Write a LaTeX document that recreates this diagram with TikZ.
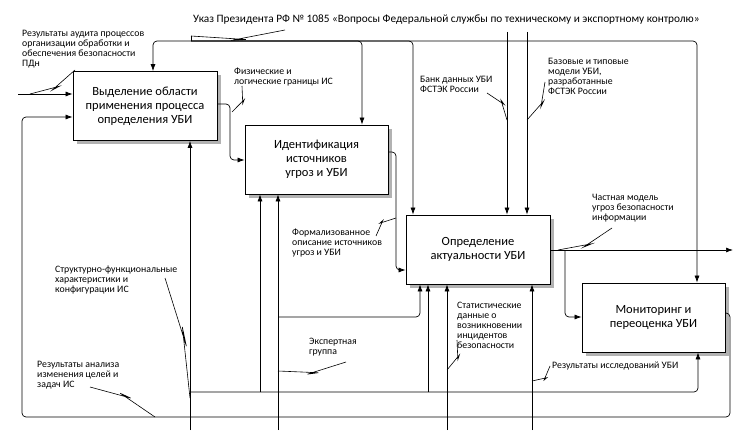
\documentclass[tikz,border=0pt]{standalone}
\usepackage{fontspec}
\setmainfont{Carlito}
\usetikzlibrary{calc,arrows.meta}
\begin{document}
\begin{tikzpicture}[x=1pt,y=-1pt,
 box/.style={draw,fill=white,line width=0.8pt,minimum width=#1,minimum height=69pt,align=center,font=\fontsize{12.5}{14}\selectfont,inner sep=2pt},
 lbl/.style={anchor=north west,align=left,font=\fontsize{9.8}{10}\selectfont,inner sep=0pt},
 ln/.style={line width=0.7pt,rounded corners=4pt},
 ar/.style={ln,-{Latex[length=7pt,width=5pt]}},
 zz/.style={line width=0.6pt}]
\newcommand\zz[2]{\draw[zz] (#1) -- ($(#1)!0.58!(#2)!7pt!90:(#2)$) -- ($(#1)!0.42!(#2)!7pt!-90:(#1)$) -- (#2);}
\useasboundingbox (0,0) rectangle (750,433);
\foreach \x/\y/\w in {145/106/144,316.5/159.5/143,478/249.5/144,653.5/317.5/143}
  \fill[gray!60] (\x-\w/2+4,\y-34.5+4) rectangle (\x+\w/2+4,\y+34.5+4);
\node[box=144pt] (B1) at (145,106) {Выделение области\\применения процесса\\определения УБИ};
\node[box=143pt] (B2) at (316.5,159.5) {Идентификация\\источников\\угроз и УБИ};
\node[box=144pt] (B3) at (478,249.5) {Определение\\актуальности УБИ};
\node[box=143pt] (B4) at (653.5,317.5) {Мониторинг и\\переоценка УБИ};

% top control
\node[anchor=west,font=\fontsize{11.3}{12}\selectfont,inner sep=0pt] (T) at (193,20) {Указ Президента РФ № 1085 «Вопросы Федеральной службы по техническому и экспортному контролю»};
\coordinate (t1) at (285,30); \coordinate (t2) at (191,36);
\zz{t1}{t2}
\coordinate (tj) at (191,41);
\draw[zz] (t2) -- (tj);
\draw[ar] (tj) -- (153,41) -- (B1.north -| 153,0);
\draw[ar] (tj) -- (362,41) -- (B2.north -| 362,0);
\draw[ar] (tj) -- (413,41) -- (B3.north -| 413,0);
\draw[ar] (tj) -- (697,41) -- (B4.north -| 697,0);
\coordinate (v1) at (507,32); \coordinate (v2) at (527,32);
\draw[ar] (v1) -- (B3.north -| v1);
\draw[ar] (v2) -- (B3.north -| v2);
\node[lbl] (L1) at (420,76) {Банк данных УБИ\\ФСТЭК России};
\coordinate (z1a) at (487,93); \coordinate (z1b) at (507,120); \zz{z1a}{z1b}
\node[lbl] (L2) at (548,58) {Базовые и типовые\\модели УБИ,\\разработанные\\ФСТЭК России};
\coordinate (z2a) at (545,82); \coordinate (z2b) at (527,120); \zz{z2a}{z2b}

% left inputs
\node[lbl] (L3) at (22,30) {Результаты аудита процессов\\организации обработки и\\обеспечения безопасности\\ПДн};
\coordinate (in1) at (18,94);
\draw[ar] (in1) -- (B1.west |- in1);
\coordinate (z3a) at (75,70); \coordinate (z3b) at (30,94); \zz{z3a}{z3b}

% feedback loop
\coordinate (fb) at (730,313);
\draw[ar] (B4.east |- fb) -- (fb) -- (730,417) -- (22,417) -- (22,117) -- (B1.west |- 0,117);
\node[lbl] (L4) at (37,361) {Результаты анализа\\изменения целей и\\задач ИС};
\coordinate (z4a) at (90,387); \coordinate (z4b) at (155,417); \zz{z4a}{z4b}

% B1 -> B2
\draw[ar] (B1.east |- 0,104) -- (230,104) -- (230,160) -- (B2.west |- 0,160);
\node[lbl] (L5) at (234,68) {Физические и\\логические границы ИС};
\coordinate (z5a) at (242,86); \coordinate (z5b) at (232,112); \zz{z5a}{z5b}

% B2 -> B3
\draw[ar] (B2.east |- 0,152) -- (396,152) -- (396,270) -- (B3.west |- 0,270);
\node[lbl] (L6) at (292,229) {Формализованное\\описание источников\\угроз и УБИ};
\coordinate (z6a) at (376,236); \coordinate (z6b) at (396,218); \zz{z6a}{z6b}

% B3 outputs
\coordinate (out) at (733,250);
\draw[ar] (B3.east |- out) -- (out);
\draw[ar] (565,250) -- (565,317) -- (B4.west |- 0,317);
\node[lbl] (L7) at (592,194) {Частная модель\\угроз безопасности\\информации};
\coordinate (z7a) at (612,228); \coordinate (z7b) at (558,250); \zz{z7a}{z7b}

% mechanisms
\coordinate (m1) at (190,430);
\draw[ar] (m1) -- (B1.south -| m1);
\draw[ar] (190,392) -- (698,392) -- (B4.south -| 698,0);
\draw[ar] (260,392) -- (B2.south -| 260,0);
\draw[ar] (428,392) -- (B3.south -| 428,0);
\node[lbl] (L8) at (55,266) {Структурно-функциональные\\характеристики и\\конфигурации ИС};
\coordinate (z8a) at (165,278); \coordinate (z8b) at (190,398); \zz{z8a}{z8b}

\coordinate (m2) at (278,430);
\draw[ar] (m2) -- (B2.south -| m2);
\draw[ar] (278,317) -- (420,317) -- (B3.south -| 420,0);
\node[lbl] (L9) at (309,338) {Экспертная\\группа};
\coordinate (z9a) at (346,362); \coordinate (z9b) at (278,371); \zz{z9a}{z9b}

\coordinate (m3) at (447,430);
\draw[ar] (m3) -- (B3.south -| m3);
\node[lbl] (L10) at (457,302) {Статистические\\данные о\\возникновении\\инцидентов\\безопасности};
\coordinate (z10a) at (457,340); \coordinate (z10b) at (447,370); \zz{z10a}{z10b}

\coordinate (m4) at (532,430);
\draw[ar] (m4) -- (B3.south -| m4);
\node[lbl,anchor=west] (L11) at (552,366) {Результаты исследований УБИ};
\coordinate (z11a) at (550,366); \coordinate (z11b) at (532,381); \zz{z11a}{z11b}
\end{tikzpicture}
\end{document}
